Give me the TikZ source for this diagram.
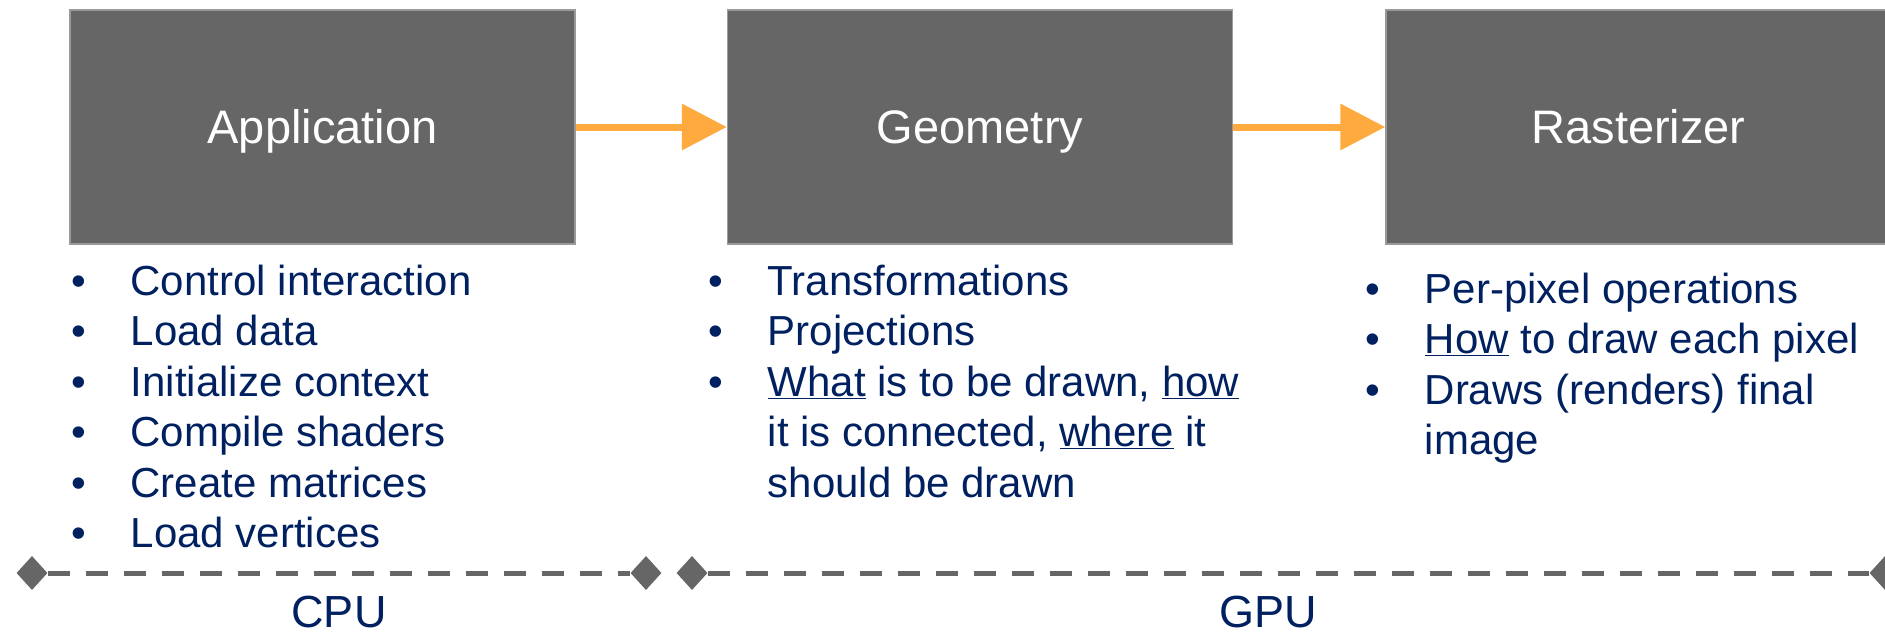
\documentclass[tikz,border=0pt]{standalone}
\usepackage{fontspec}
\setmainfont{Liberation Sans}
\usetikzlibrary{positioning,shapes.geometric,arrows.meta}

% Colores de la figura
\definecolor{grisetapa}{HTML}{666666}
\definecolor{bordeetapa}{HTML}{9A9A9A}
\definecolor{naranja}{HTML}{FFAA3F}
\definecolor{azul}{RGB}{0,32,96}

% Viñeta de ancho fijo y sangría para las líneas que continúan
\newcommand{\vineta}{\makebox[59.5pt][l]{\textbullet}}
\newcommand{\sangria}{\hspace*{59.5pt}}

\begin{document}
\begin{tikzpicture}[x=1pt,y=-1pt,
    etapa/.style={rectangle, fill=grisetapa, draw=bordeetapa, line width=1.5pt,
      minimum width=505pt, minimum height=234pt, inner sep=0pt, text=white,
      font=\fontsize{47}{56}\selectfont, text height=33.6pt, text depth=0pt},
    flecha/.style={naranja, line width=7pt, -{Triangle[length=45pt,width=45pt]}},
    lista/.style={anchor=base west, inner sep=0pt, text=azul,
      font=\fontsize{42}{50.5}\selectfont},
    extremo/.style={diamond, fill=grisetapa, minimum width=31pt,
      minimum height=34pt, inner sep=0pt},
    linea/.style={grisetapa, line width=5pt, dash pattern=on 22pt off 16pt},
    unidad/.style={anchor=base, inner sep=0pt, text=azul,
      font=\fontsize{45}{54}\selectfont}]

        % Área de dibujo (la última caja queda cortada por el borde)
        \clip (0,0) rectangle (1885,634);

        % Las tres etapas del pipeline
        \node[etapa] (app) at (322.5,127) {Application};
        \node[etapa, right=151pt of app] (geo) {Geometry};
        \node[etapa, right=152pt of geo] (ras) {Rasterizer};

        % Flechas entre etapas
        \draw[flecha] (app) -- (geo);
        \draw[flecha] (geo) -- (ras);

        % Tareas de cada etapa
        \node[lista] (tapp) at (71,295) {\begin{tabular}[t]{@{}l@{}}
            \vineta Control interaction\\
            \vineta Load data\\
            \vineta Initialize context\\
            \vineta Compile shaders\\
            \vineta Create matrices\\
            \vineta Load vertices
          \end{tabular}};
        \node[lista] (tgeo) at (708,295) {\begin{tabular}[t]{@{}l@{}}
            \vineta Transformations\\
            \vineta Projections\\
            \vineta \underline{What} is to be drawn, \underline{how}\\
            \sangria it is connected, \underline{where} it\\
            \sangria should be drawn
          \end{tabular}};
        \node[lista] (tras) at (1365,303) {\begin{tabular}[t]{@{}l@{}}
            \vineta Per-pixel operations\\
            \vineta \underline{How} to draw each pixel\\
            \vineta Draws (renders) final\\
            \sangria image
          \end{tabular}};

        % Extremos de los tramos CPU y GPU
        \node[extremo] (cpuini) at (32,573) {};
        \node[extremo] (cpufin) at (646,573) {};
        \node[extremo] (gpuini) at (692,573) {};
        \node[extremo] (gpufin) at (1885,573) {};

        % Tramos discontinuos
        \draw[linea] (cpuini) -- (cpufin);
        \draw[linea] (gpuini) -- (gpufin);

        % Etiquetas de los tramos
        \node[unidad] (cpu) at (339,627) {CPU};
        \node[unidad] (gpu) at (1268,627) {GPU};

    \end{tikzpicture}
\end{document}
